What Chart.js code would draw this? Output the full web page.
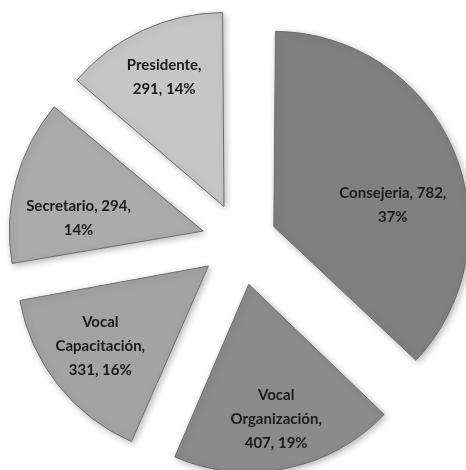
<!DOCTYPE html>
<html>
<head>
<meta charset="utf-8">
<script src="https://cdn.jsdelivr.net/npm/chart.js@4/dist/chart.umd.min.js"></script>
<style>
  html, body { margin: 0; padding: 0; background: #fff; }
  #wrap { width: 466px; height: 470px; position: relative; }
</style>
</head>
<body>
<div id="wrap"><canvas id="chart"></canvas></div>
<script>
const categories = ["Consejeria", "Vocal Organización", "Vocal Capacitación", "Secretario", "Presidente"];
const values = [782, 407, 331, 294, 291];
const colors = ["#808080", "#8b8b8b", "#a3a3a3", "#ababab", "#c6c6c6"];

// label placement, like Excel's "best fit": part of radius, turn in degrees, wrap width
const labelRadius = [0.6, 0.73, 0.69, 0.63, 0.72];
const labelTurn = [14, 0, 2, -10, 0];
const labelWidth = [140, 115, 115, 130, 95];

const EXPLODE = 47;     // px each slice is pulled out
const total = values.reduce((a, b) => a + b, 0);

// Chart.js v4 arcs move by offset/4 * (2 - sin(circumference)), undo that
function arcOffset(ctx) {
  const circ = values[ctx.dataIndex] / total * Math.PI * 2;
  return 4 * EXPLODE / (2 - Math.sin(Math.min(Math.PI, circ)));
}

function wrap(ctx, text, maxW) {
  const words = text.split(" ");
  const lines = [];
  let cur = "";
  words.forEach((w) => {
    const next = cur ? cur + " " + w : w;
    if (cur && ctx.measureText(next).width > maxW) {
      lines.push(cur);
      cur = w;
    } else {
      cur = next;
    }
  });
  if (cur) lines.push(cur);
  return lines;
}

const shadowPlugin = {
  id: "shadow",
  beforeDatasetsDraw(chart) {
    const c = chart.ctx;
    c.save();
    c.shadowColor = "rgba(0,0,0,0.28)";
    c.shadowBlur = 7;
    c.shadowOffsetX = 2;
    c.shadowOffsetY = 2;
  },
  afterDatasetsDraw(chart) {
    chart.ctx.restore();
  },
};

const labelPlugin = {
  id: "sliceLabels",
  afterDatasetsDraw(chart) {
    const c = chart.ctx;
    const meta = chart.getDatasetMeta(0);
    c.save();
    c.font = "bold 15px Lato";
    c.fillStyle = "#1c1c1c";
    c.textAlign = "center";
    c.textBaseline = "middle";
    meta.data.forEach((arc, i) => {
      const mid = (arc.startAngle + arc.endAngle) / 2;
      const bx = arc.x + Math.cos(mid) * EXPLODE;
      const by = arc.y + Math.sin(mid) * EXPLODE;
      const a = mid + labelTurn[i] * Math.PI / 180;
      const d = labelRadius[i] * arc.outerRadius;
      const x = bx + Math.cos(a) * d;
      const y = by + Math.sin(a) * d;
      const pct = Math.round(values[i] / total * 100);
      const lines = wrap(c, `${categories[i]}, ${values[i]}, ${pct}%`, labelWidth[i]);
      const lh = 24;
      lines.forEach((ln, k) => {
        c.fillText(ln, x, y + (k - (lines.length - 1) / 2) * lh);
      });
    });
    c.restore();
  },
};

new Chart(document.getElementById("chart"), {
  type: "pie",
  data: {
    labels: categories,
    datasets: [{
      data: values,
      backgroundColor: colors,
      borderColor: "#6e6e6e",
      borderWidth: 1,
      offset: arcOffset,
      radius: 185,
    }],
  },
  options: {
    responsive: true, maintainAspectRatio: false,
    animation: false,
    events: [],
    layout: { padding: { left: 14, top: 12 } },
    plugins: { legend: { display: false }, tooltip: { enabled: false } },
  },
  plugins: [shadowPlugin, labelPlugin],
});
</script>
</body>
</html>
